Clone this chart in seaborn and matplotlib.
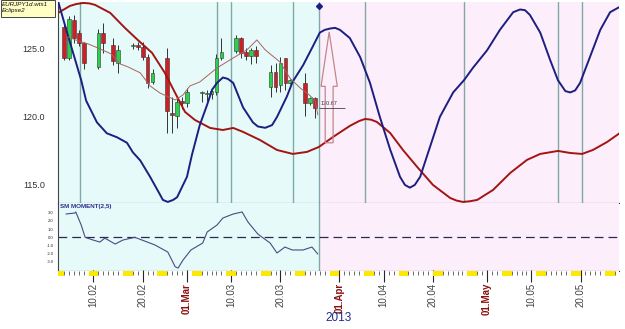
import numpy as np
import pandas as pd
import seaborn as sns
import matplotlib
matplotlib.use('Agg')
import matplotlib.pyplot as plt
import matplotlib.dates as mdates
from matplotlib.patches import FancyArrow, Rectangle

# all the *_t lists are day offsets counted from 1 Feb 2013
start = pd.Timestamp('2013-02-01')

# blue cycle curve
blue_t = [1.8, 3.8, 6.5, 7.5, 9.7, 11.7, 13.8, 15.8, 17.0, 18.5, 20.5, 22.5, 23.1, 24.1, 25.2, 26.0, 28.0,
          29.0, 30.6, 32.1, 33.1, 34.1, 35.3, 36.3, 37.4, 39.4, 41.4, 42.4, 43.9, 45.3, 46.3, 48.3, 49.5, 51.6, 53.6,
          55.0, 56.0, 57.1, 58.1, 59.1, 61.1, 63.2, 65.2, 67.2, 69.3, 71.3, 72.3, 73.3, 74.3, 75.4, 77.4, 79.4, 82.1, 84.3,
          86.1, 89.0, 91.6, 94.3, 95.7, 96.7, 97.7, 99.8, 101.8, 103.4, 104.9, 105.9, 106.9, 107.9, 109.9, 112.0, 114.0, 116.0]
blue_v = [128.5, 126.0, 122.7, 121.2, 119.6, 118.8, 118.5, 118.1, 117.4, 116.8, 115.6, 114.3, 113.9, 113.75, 113.9, 114.1, 115.6,
          117.2, 119.4, 120.9, 122.0, 122.5, 122.9, 122.8, 122.5, 120.7, 119.6, 119.3, 119.2, 119.4, 120.0, 121.5, 122.6, 123.8, 125.2,
          126.2, 126.4, 126.5, 126.55, 126.4, 125.8, 124.4, 122.5, 120.0, 117.6, 115.6, 115.0, 114.8, 115.0, 115.6, 117.8, 120.0, 121.8, 122.7,
          123.6, 124.9, 126.4, 127.7, 127.9, 127.85, 127.5, 126.2, 124.2, 122.7, 121.9, 121.8, 121.95, 122.5, 124.4, 126.4, 127.7, 128.1]

# red cycle curve
red_t = [1.8, 4.2, 5.5, 6.9, 8.1, 9.3, 12.4, 15.4, 18.0, 20.9, 23.5, 25.6, 27.6, 29.6, 32.7, 35.3, 37.4,
         39.4, 42.8, 46.3, 49.5, 52.4, 54.8, 57.7, 61.1, 63.0, 64.2, 65.4, 66.6, 69.3, 71.9, 74.8, 78.0, 81.5,
         82.8, 84.1, 85.5, 87.0, 90.2, 93.7, 97.1, 99.8, 103.4, 105.9, 108.3, 110.5, 113.4, 116.0]
red_v = [127.65, 128.16, 128.3, 128.38, 128.35, 128.24, 127.65, 126.54, 125.66, 124.71, 123.24, 121.76, 120.37, 119.78, 119.19, 119.04, 119.19,
         118.9, 118.31, 117.57, 117.28, 117.43, 117.79, 118.53, 119.34, 119.7, 119.85, 119.8, 119.63, 118.82, 117.57, 116.32, 115.0, 114.04,
         113.85, 113.75, 113.8, 113.9, 114.63, 115.88, 116.84, 117.28, 117.5, 117.35, 117.28, 117.57, 118.16, 118.82]

# thin moving average over the candles
ma_t = [3.8, 5.9, 7.9, 9.9, 12.6, 14.4, 16.0, 18.5, 20.5, 22.5, 25.6, 27.2, 28.6, 30.6, 34.1,
        37.4, 40.2, 42.2, 43.9, 46.9, 48.9, 51.0, 52.6, 54.0, 54.6]
ma_v = [125.88, 125.59, 125.37, 125.07, 124.63, 123.9, 123.68, 123.24, 122.28, 121.76, 121.25, 121.62, 122.28, 122.57, 123.6,
        124.34, 124.93, 125.66, 124.93, 124.04, 122.87, 122.13, 121.69, 121.25, 120.15]

# SM MOMENT(2,5)
mom_t = [3.4, 5.2, 5.4, 6.5, 7.3, 8.9, 10.3, 11.3, 13.4, 15.0, 17.4, 21.5, 24.1, 25.6, 26.2, 27.2,
         28.8, 31.2, 32.1, 34.1, 35.3, 37.4, 39.2, 40.4, 42.4, 44.9, 46.3, 47.9, 49.4, 51.6, 53.4, 54.6]
mom_v = [2.85, 2.97, 3.1, 1.5, 0.0, -0.33, -0.58, -0.1, -0.82, -0.33, 0.0, -0.94, -1.8, -3.6, -3.76, -2.78,
         -1.55, -0.7, 0.65, 1.5, 2.36, 2.85, 3.1, 1.87, 0.4, -0.7, -1.92, -1.19, -1.55, -1.55, -1.19, -2.04]

# daily EURJPY candles
candle_day = ['2013-02-04', '2013-02-05', '2013-02-06', '2013-02-07', '2013-02-08',
              '2013-02-11', '2013-02-12', '2013-02-14', '2013-02-15',
              '2013-02-18', '2013-02-19', '2013-02-20', '2013-02-21', '2013-02-22',
              '2013-02-25', '2013-02-26', '2013-02-27', '2013-02-28', '2013-03-01',
              '2013-03-04', '2013-03-05', '2013-03-06', '2013-03-07', '2013-03-08',
              '2013-03-11', '2013-03-12', '2013-03-13', '2013-03-14', '2013-03-15',
              '2013-03-18', '2013-03-19', '2013-03-20', '2013-03-21', '2013-03-22',
              '2013-03-25', '2013-03-26', '2013-03-27']
c_open = [126.6, 124.3, 127.1, 126.2, 125.4, 123.7, 126.2, 125.3, 124.0, 125.25, 125.3, 125.15, 124.4, 122.6,
          124.3, 120.3, 120.1, 121.2, 121.0, 121.75, 121.7, 121.7, 121.8, 124.3, 124.85, 125.8, 124.8, 124.5,
          124.9, 122.2, 123.3, 122.35, 124.3, 122.5, 122.5, 121.0, 121.4]
c_high = [126.8, 127.4, 127.5, 126.4, 125.5, 126.5, 126.9, 125.8, 125.3, 125.4, 125.5, 125.5, 124.6, 123.5,
          125.1, 121.5, 121.5, 121.5, 122.1, 121.9, 122.0, 122.0, 124.6, 125.8, 126.0, 125.9, 125.1, 125.1,
          125.2, 123.8, 124.0, 124.4, 124.35, 122.8, 123.2, 121.5, 121.5]
c_low = [124.2, 124.2, 125.4, 125.2, 123.5, 123.5, 124.7, 123.8, 123.2, 125.0, 124.9, 124.2, 122.1, 122.4,
         118.8, 118.8, 119.2, 120.6, 120.7, 121.1, 121.2, 121.3, 121.6, 124.2, 124.7, 124.3, 124.2, 123.9,
         124.0, 121.5, 121.8, 121.8, 122.0, 122.4, 120.1, 120.9, 119.9]
c_close = [124.3, 127.2, 125.8, 125.4, 124.0, 126.2, 125.4, 124.1, 124.9, 125.3, 125.15, 124.4, 122.5, 123.2,
           120.4, 120.15, 121.1, 121.05, 121.8, 121.8, 121.75, 121.9, 124.3, 124.8, 125.8, 124.7, 124.5, 124.9,
           124.5, 123.3, 122.2, 124.0, 122.5, 122.7, 121.0, 121.4, 120.67]

# vertical event lines, the last-bar line and the last close
event_t = [6.3, 34.1, 36.9, 49.5, 54.8, 64.2, 84.3, 103.4, 108.3]
split_t = 54.8
last_close = 120.67

sns.set_style('white')
plt.rcParams['font.family'] = ['Liberation Sans', 'DejaVu Sans']

base = mdates.date2num(start)
x0, x1 = base + 1.785, base + 115.81

fig = plt.figure(figsize=(6.25, 3.29), dpi=100)
ax = fig.add_axes([58 / 625, 125.7 / 329, 561 / 625, 201.3 / 329])
axm = fig.add_axes([58 / 625, 58 / 329, 561 / 625, 67.7 / 329], sharex=ax)
axs = fig.add_axes([58 / 625, 53 / 329, 561 / 625, 5 / 329], sharex=ax)

# history (cyan) and projection (pink) backgrounds
for a in (ax, axm):
    a.axvspan(x0, base + split_t, color='#e6fafa', lw=0, zorder=0)
    a.axvspan(base + split_t, x1, color='#fdeefb', lw=0, zorder=0)
for t in event_t:
    ax.axvline(base + t, color='#7fa9a9', lw=1, zorder=1)
axm.axvline(base + split_t, color='#7fa9a9', lw=1, zorder=1)

# candles
cx = mdates.date2num(pd.to_datetime(candle_day).to_pydatetime())
o = np.array(c_open)
c = np.array(c_close)
body_col = np.where(c >= o, '#2ad24c', '#cf1f24')
ax.vlines(cx, c_low, c_high, color='#333333', lw=0.7, zorder=2)
ax.bar(cx, np.maximum(np.abs(c - o), 0.06), bottom=np.minimum(o, c), width=0.75,
       color=body_col, edgecolor='#333333', lw=0.4, zorder=3)

# cycle curves and moving average
sns.lineplot(x=base + np.array(red_t), y=red_v, ax=ax, color='#a31414', lw=1.4,
             sort=False, estimator=None, zorder=4)
sns.lineplot(x=base + np.array(blue_t), y=blue_v, ax=ax, color='#1c1f80', lw=1.4,
             sort=False, estimator=None, zorder=4)
sns.lineplot(x=base + np.array(ma_t), y=ma_v, ax=ax, color='#a8645f', lw=0.7,
             sort=False, estimator=None, zorder=4)

# hollow arrow, last close marker and diamond
ax.add_patch(FancyArrow(base + 56.9, 118.1, 0, 8.15, width=1.6, head_width=3.3, head_length=4.0,
                        length_includes_head=True, fill=False, ec='#c08888', lw=0.9, zorder=5))
ax.hlines(last_close, base + split_t, base + 60.1, color='#444444', lw=0.6, zorder=5)
ax.text(base + 55.2, last_close + 0.12, f'{last_close:.2f}', fontsize=4, color='#333333', va='bottom')
ax.plot(base + split_t, 128.15, marker='D', ms=3, color='#1c1f80', clip_on=False, zorder=6)

ax.set_ylim(113.65, 128.45)
ax.set_yticks([115, 120, 125])
ax.set_yticklabels(['115.0', '120.0', '125.0'])
ax.tick_params(axis='y', length=7, width=0.8, color='#777777', labelcolor='#333333', pad=2.5, labelsize=6.5)
for s in ('top', 'right'):
    ax.spines[s].set_visible(False)
ax.spines['left'].set_color('#444444')
ax.spines['bottom'].set_color('#333333')
ax.set_xlabel('')
ax.set_ylabel('')

# momentum panel
sns.lineplot(x=base + np.array(mom_t), y=mom_v, ax=axm, color='#4a4a80', lw=0.8,
             sort=False, estimator=None, zorder=3)
axm.axhline(0, color='#2a2a50', lw=0.9, ls=(0, (7, 4)), zorder=2)
axm.set_ylim(-4.12, 4.16)
axm.set_yticks([3, 2, 1, 0, -1, -2, -3])
axm.set_yticklabels([f'{v:.1f}' for v in [3, 2, 1, 0, -1, -2, -3]])
axm.tick_params(axis='y', length=2, width=0.5, color='#555555', labelsize=3, pad=1)
axm.spines['top'].set_visible(False)
axm.spines['right'].set_visible(False)
axm.spines['left'].set_color('#444444')
axm.spines['bottom'].set_color('#333333')
axm.text(0.004, 0.985, 'SM MOMENT(2,5)', transform=axm.transAxes, fontsize=4.5,
         color='#2c2c8c', fontweight='bold', va='top', ha='left')
axm.set_xlabel('')
axm.set_ylabel('')

for a in (ax, axm):
    a.tick_params(axis='x', which='both', bottom=False, top=False, labelbottom=False)

# date strip with weekends in yellow
for sat in pd.date_range('2013-02-02', '2013-05-25', freq='7D'):
    d = mdates.date2num(sat.to_pydatetime())
    axs.axvspan(d, d + 2, color='#ffe800', lw=0)
for s in axs.spines.values():
    s.set_visible(False)
axs.set_yticks([])
axs.xaxis.set_minor_locator(mdates.DayLocator())
majors = [d for d in pd.date_range('2013-02-01', '2013-05-31') if d.day in (1, 10, 20)]
majors = [d for d in majors if x0 < mdates.date2num(d.to_pydatetime()) < x1]
labels = [d.strftime('%d.%b') if d.day == 1 else d.strftime('%d.%m') for d in majors]
axs.set_xticks([mdates.date2num(d.to_pydatetime()) for d in majors], labels)
axs.tick_params(axis='x', which='major', bottom=True, top=False, direction='inout', length=8,
                width=0.8, pad=1, labelsize=7, labelrotation=90)
axs.tick_params(axis='x', which='minor', bottom=False, top=True, direction='in', length=3,
                width=0.5, color='#333333')
for lab, d, tk in zip(axs.get_xticklabels(), majors, axs.xaxis.get_major_ticks()):
    if d.day == 1:
        lab.set_color('#8b1010')
        lab.set_fontweight('bold')
        tk.tick1line.set_color('#8b1010')
    else:
        lab.set_color('#444444')
        tk.tick1line.set_color('#666666')

ax.set_xlim(x0, x1)

# legend box top-left and year
fig.patches.append(Rectangle((0.5 / 625, 1 - 17 / 329), 54 / 625, 16.5 / 329, transform=fig.transFigure,
                             fc='#ffffc4', ec='#444444', lw=0.7))
fig.text(2 / 625, 1 - 2 / 329, 'EURJPY1d.wts1\nEclipse2', va='top', ha='left', fontsize=4.5,
         style='italic', linespacing=1.2, color='#111111')
fig.text(338.5 / 625, 1 - 318 / 329, '2013', ha='center', va='center', fontsize=8.5, color='#1e2a8a')

fig.savefig('out.png', dpi=100)
